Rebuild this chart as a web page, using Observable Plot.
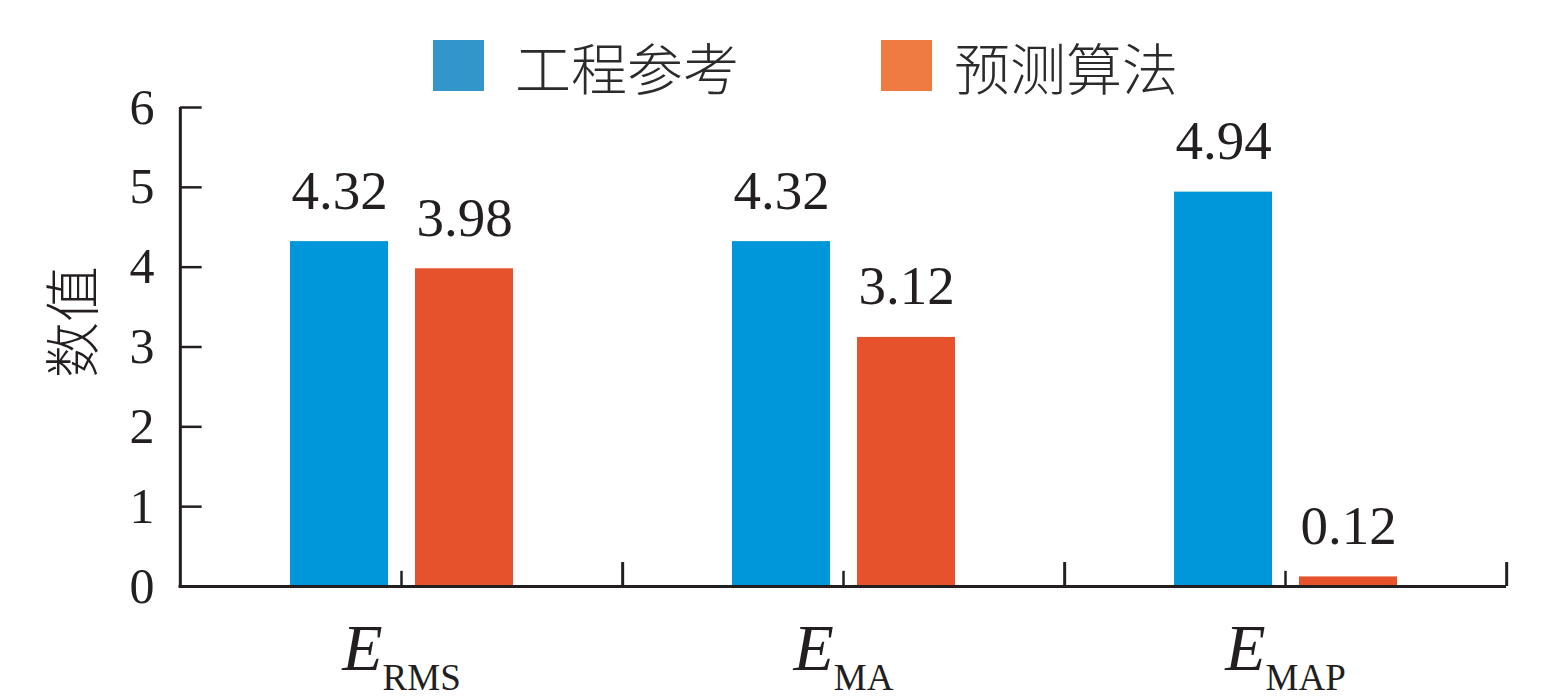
<!DOCTYPE html>
<html>
<head>
<meta charset="utf-8">
<script src="https://cdn.jsdelivr.net/npm/d3@7"></script>
<script src="https://cdn.jsdelivr.net/npm/@observablehq/plot@0.6"></script>
<style>
  body { margin: 0; background: #fff; }
  #chart { position: relative; width: 1558px; height: 696px; }
  .item { position: absolute; top: 40px; display: flex; align-items: center; height: 51px; }
  .sw { width: 51px; height: 51px; }
  .lab { position: absolute; top: 28px; font-family: "Noto Sans CJK SC"; font-weight: 300; font-size: 56px; line-height: 76px; color: #2b2b2b; white-space: nowrap; }
</style>
</head>
<body>
<div id="chart"></div>
<script>
/* global d3, Plot */

// metrics on the x axis (subscripts of E) and the two series
const metrics = ['RMS', 'MA', 'MAP'];
const series = ['工程参考', '预测算法'];
const reference = [4.32, 4.32, 4.94];
const predicted = [3.98, 3.12, 0.12];
const yTicks = [0, 1, 2, 3, 4, 5, 6];
const barColors = ['#0096da', '#e5522b'];
const legendColors = ['#3396cb', '#ef7a42'];

const rows = metrics.flatMap((m, i) => [
  { metric: m, series: series[0], value: reference[i] },
  { metric: m, series: series[1], value: predicted[i] }
]);

const W = 1558;
const mL = 179;
const mR = 52;
const bw = (W - mL - mR) / metrics.length; // width of one group
const ink = '#231f20';

const chart = Plot.plot({
  width: W,
  height: 696,
  marginTop: 107,
  marginBottom: 110,
  marginLeft: mL,
  marginRight: mR,
  style: { fontFamily: 'Liberation Serif', fontSize: '48px', color: ink, background: 'white', overflow: 'visible' },
  fx: { domain: metrics, padding: 0 },
  x: { domain: series, paddingInner: 0.22, paddingOuter: 0.87, axis: null },
  y: { domain: [0, 6] },
  color: { domain: series, range: barColors },
  marks: [
    Plot.barY(rows, { fx: 'metric', x: 'series', y: 'value', fill: 'series' }),
    Plot.text(rows, {
      fx: 'metric', x: 'series', y: 'value', text: d => d.value.toFixed(2),
      lineAnchor: 'bottom', dy: -33, fontSize: 55, fill: ink
    }),
    // axis lines
    Plot.ruleY([0], { strokeWidth: 3, insetLeft: -1.5 }),
    Plot.ruleX([0], { fx: () => metrics[0], x: null, y1: 0, y2: 6, dx: -bw / 2, strokeWidth: 3 }),
    // inward y ticks
    Plot.ruleY(yTicks, { fx: () => metrics[0], y: d => d, insetRight: bw - 22, strokeWidth: 2.5 }),
    // short ticks between the bars, tall ticks on group edges
    Plot.ruleX(metrics, { fx: d => d, x: null, y1: 0, y2: 0.19, strokeWidth: 2.5 }),
    Plot.ruleX(metrics, { fx: d => d, x: null, dx: bw / 2, y1: 0, y2: 0.3, strokeWidth: 3 }),
    Plot.axisY({ ticks: yTicks, tickFormat: d => String(d), tickSize: 0, tickPadding: 26, fontSize: 50, label: null }),
    Plot.axisFx({ anchor: 'bottom', tickSize: 0, tickPadding: 37, fontSize: 66, label: null, tickFormat: d => 'E' + d }),
    Plot.text(['数值'], {
      fx: () => metrics[0], frameAnchor: 'left', rotate: -90, dx: -105, dy: 31,
      fontSize: 56, fontFamily: 'Noto Sans CJK SC', fontWeight: 300, fill: ink
    })
  ]
});

// turn "ERMS" into italic E with a subscript
const ns = 'http://www.w3.org/2000/svg';
chart.querySelectorAll('g[aria-label="fx-axis tick label"] text').forEach(t => {
  const s = t.textContent;
  t.textContent = '';
  const e = document.createElementNS(ns, 'tspan');
  e.setAttribute('font-style', 'italic');
  e.textContent = s[0];
  const sub = document.createElementNS(ns, 'tspan');
  sub.setAttribute('font-size', '37');
  sub.setAttribute('dy', '20');
  sub.textContent = s.slice(1);
  t.append(e, sub);
});

const box = document.getElementById('chart');
box.append(chart);

// legend above the plot
const swX = [433, 881];
const labX = [515, 954];
series.forEach((s, i) => {
  const item = document.createElement('div');
  item.className = 'item';
  item.style.left = swX[i] + 'px';
  const sw = document.createElement('div');
  sw.className = 'sw';
  sw.style.background = legendColors[i];
  item.append(sw);
  const lab = document.createElement('div');
  lab.className = 'lab';
  lab.style.left = labX[i] + 'px';
  lab.textContent = s;
  box.append(item, lab);
});
</script>
</body>
</html>
